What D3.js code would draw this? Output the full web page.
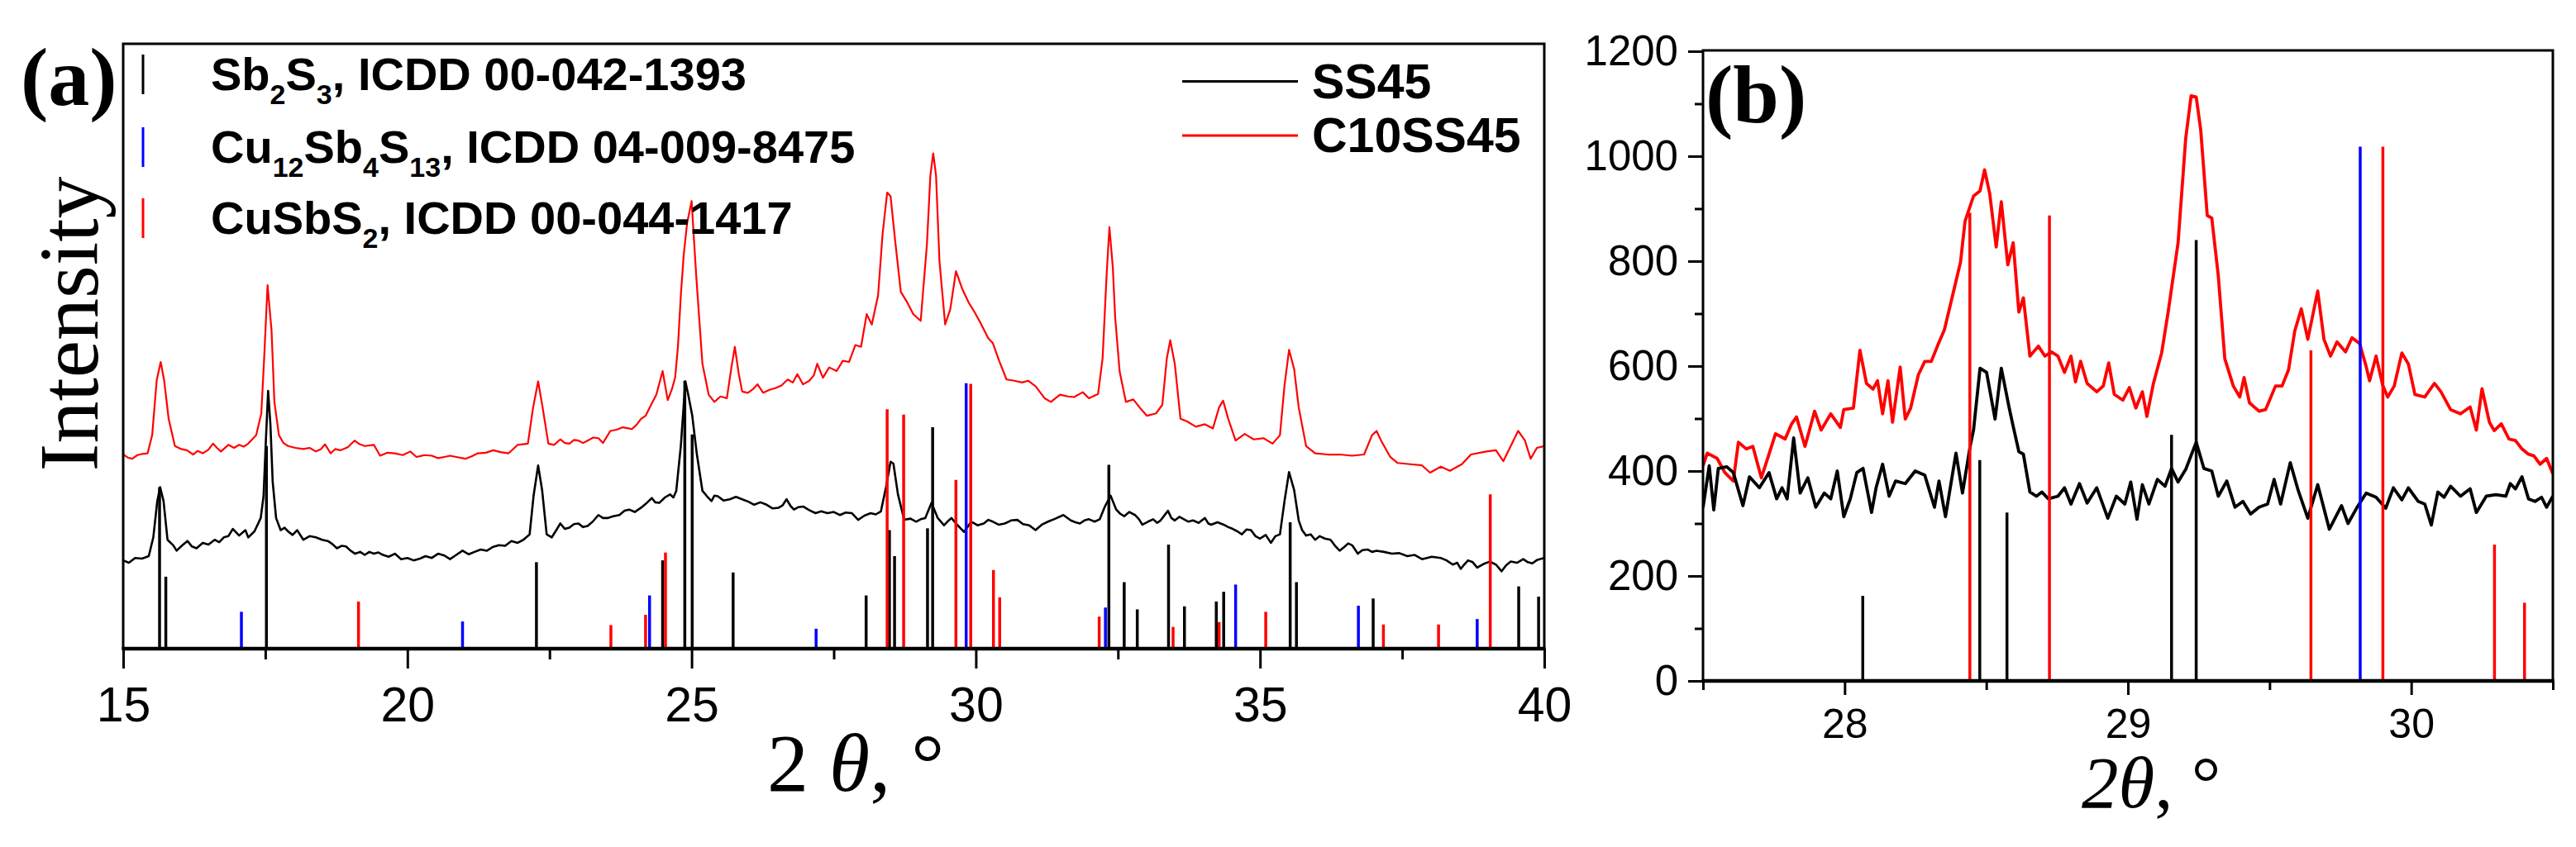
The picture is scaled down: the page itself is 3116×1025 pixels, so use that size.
<!DOCTYPE html>
<html lang="en">
<head>
  <meta charset="UTF-8">
  <title>XRD SS45 / C10SS45</title>
  <style>
    body { margin: 0; background: #fff; }
    svg { display: block; }
  </style>
</head>
<body>
  <div id="chart"></div>

<script src="https://d3js.org/d3.v7.min.js"></script>
<script>
  // Panel (a): measured patterns, [2theta, intensity in arbitrary units]
  var ss45A = [[15.00,14.6],[15.10,14.2],[15.21,15.0],[15.33,14.9],[15.45,15.3],[15.53,18.4],[15.60,24.4],[15.65,26.7],[15.71,24.4],[15.78,18.0],[15.88,17.1],[15.94,16.2],[16.03,17.0],[16.13,17.8],[16.21,16.9],[16.29,16.6],[16.40,17.5],[16.50,17.2],[16.61,18.0],[16.69,17.6],[16.77,18.4],[16.85,18.6],[16.93,19.8],[17.04,18.7],[17.15,19.6],[17.20,18.4],[17.31,19.4],[17.42,21.6],[17.47,25.3],[17.51,34.4],[17.55,42.6],[17.59,37.1],[17.63,27.6],[17.69,21.6],[17.77,19.6],[17.84,20.0],[17.90,19.4],[17.98,18.8],[18.06,19.6],[18.17,18.0],[18.28,18.6],[18.39,18.4],[18.50,18.0],[18.60,17.8],[18.68,17.3],[18.76,16.6],[18.84,17.0],[18.92,16.9],[19.00,16.2],[19.08,15.7],[19.17,16.0],[19.25,15.5],[19.33,16.0],[19.41,15.7],[19.49,15.9],[19.57,15.5],[19.67,15.2],[19.78,15.7],[19.89,14.8],[20.00,15.0],[20.11,14.6],[20.22,14.9],[20.32,15.3],[20.43,15.0],[20.54,15.7],[20.65,15.4],[20.75,14.8],[20.86,15.5],[20.97,16.2],[21.08,15.6],[21.18,16.0],[21.29,16.4],[21.40,16.2],[21.50,16.8],[21.61,17.1],[21.72,17.0],[21.83,17.8],[21.94,17.5],[22.04,18.0],[22.15,18.9],[22.22,25.3],[22.30,30.3],[22.37,26.2],[22.45,18.9],[22.54,18.4],[22.62,19.6],[22.69,20.7],[22.77,19.8],[22.85,20.0],[22.93,20.6],[23.01,20.7],[23.09,20.1],[23.17,20.3],[23.26,21.0],[23.36,22.1],[23.44,21.6],[23.52,21.6],[23.62,21.9],[23.73,22.1],[23.82,22.8],[23.90,23.0],[24.00,22.6],[24.11,23.3],[24.20,24.0],[24.30,24.9],[24.36,24.2],[24.43,24.1],[24.53,25.0],[24.62,25.5],[24.68,25.0],[24.73,26.1],[24.81,33.5],[24.89,44.2],[24.94,42.0],[25.01,38.6],[25.09,32.3],[25.19,26.1],[25.27,25.2],[25.35,24.4],[25.40,25.3],[25.46,25.2],[25.56,24.5],[25.67,24.7],[25.78,25.1],[25.89,24.7],[26.00,24.3],[26.10,23.8],[26.21,24.2],[26.32,23.8],[26.42,23.2],[26.53,23.3],[26.60,23.7],[26.67,24.7],[26.74,23.6],[26.80,23.0],[26.88,23.4],[26.96,23.5],[27.07,22.9],[27.18,22.4],[27.28,22.7],[27.39,22.4],[27.50,22.6],[27.61,22.1],[27.71,22.5],[27.82,22.4],[27.93,21.3],[28.04,22.0],[28.15,22.4],[28.24,22.2],[28.33,22.7],[28.42,26.7],[28.50,30.9],[28.55,30.6],[28.63,25.5],[28.74,21.3],[28.85,21.5],[28.95,21.0],[29.03,21.4],[29.11,21.6],[29.22,24.1],[29.33,21.6],[29.44,20.4],[29.50,21.0],[29.57,21.6],[29.68,20.4],[29.79,19.3],[29.86,20.2],[29.92,21.0],[30.03,20.4],[30.14,20.7],[30.22,21.3],[30.30,21.0],[30.40,20.5],[30.51,20.7],[30.62,21.2],[30.73,21.3],[30.83,20.6],[30.94,20.4],[31.05,19.6],[31.16,20.5],[31.27,21.0],[31.40,21.5],[31.54,22.1],[31.67,21.2],[31.75,20.9],[31.83,20.7],[31.91,21.2],[31.99,21.4],[32.09,21.0],[32.18,21.4],[32.27,23.5],[32.37,25.3],[32.47,23.0],[32.54,22.3],[32.61,21.9],[32.70,22.6],[32.80,22.1],[32.87,21.4],[32.93,20.5],[33.03,21.0],[33.12,21.4],[33.19,20.8],[33.25,21.2],[33.38,22.8],[33.44,21.6],[33.50,21.2],[33.58,21.8],[33.66,21.4],[33.74,21.0],[33.82,21.2],[33.92,20.8],[34.03,21.6],[34.09,20.7],[34.14,20.5],[34.25,20.9],[34.36,20.5],[34.44,20.1],[34.52,19.8],[34.60,19.4],[34.68,18.9],[34.76,19.7],[34.84,19.6],[34.92,18.6],[35.00,18.2],[35.10,18.8],[35.19,17.5],[35.27,18.6],[35.35,18.9],[35.43,24.4],[35.51,29.2],[35.60,26.2],[35.68,21.2],[35.74,19.6],[35.81,18.7],[35.89,18.9],[35.97,18.0],[36.05,18.6],[36.14,18.2],[36.24,18.0],[36.32,17.0],[36.40,16.2],[36.48,16.8],[36.55,17.4],[36.62,17.1],[36.72,15.7],[36.80,16.3],[36.89,16.4],[36.97,16.0],[37.05,16.2],[37.18,16.0],[37.32,15.7],[37.45,15.8],[37.59,15.3],[37.72,15.5],[37.85,14.8],[38.02,15.2],[38.18,15.0],[38.28,14.6],[38.39,13.9],[38.47,14.2],[38.53,13.2],[38.60,14.0],[38.66,14.6],[38.74,14.3],[38.82,13.4],[38.93,14.0],[39.04,14.4],[39.15,13.9],[39.25,12.8],[39.33,13.8],[39.41,14.4],[39.52,14.2],[39.63,14.8],[39.71,14.3],[39.79,14.1],[39.88,14.7],[40.00,15.0]];

  var c10ss45A = [[15.00,32.1],[15.08,31.6],[15.16,31.4],[15.25,32.0],[15.34,32.2],[15.43,32.3],[15.51,35.3],[15.59,44.4],[15.66,47.4],[15.72,44.4],[15.80,38.0],[15.91,33.5],[16.02,33.0],[16.12,32.8],[16.23,32.1],[16.31,32.7],[16.40,32.3],[16.50,32.9],[16.58,33.9],[16.65,33.2],[16.72,32.6],[16.85,33.7],[16.95,33.2],[17.04,33.7],[17.12,33.4],[17.20,33.9],[17.34,35.3],[17.43,38.9],[17.48,48.0],[17.54,60.1],[17.61,52.6],[17.66,40.8],[17.74,35.3],[17.82,34.0],[17.90,33.5],[18.03,33.2],[18.17,33.0],[18.28,33.2],[18.39,32.6],[18.48,33.0],[18.55,33.8],[18.65,32.3],[18.73,33.0],[18.82,32.8],[18.95,33.3],[19.07,34.4],[19.16,33.8],[19.25,33.5],[19.41,33.7],[19.52,31.9],[19.65,32.4],[19.78,32.3],[19.92,32.0],[20.05,32.6],[20.16,31.7],[20.30,32.0],[20.43,31.9],[20.54,31.5],[20.65,31.7],[20.75,31.9],[20.86,31.7],[21.02,31.4],[21.13,31.8],[21.24,32.3],[21.38,32.4],[21.51,32.8],[21.64,32.5],[21.78,32.3],[21.86,33.0],[21.94,33.7],[22.12,33.9],[22.21,39.8],[22.30,44.2],[22.38,39.8],[22.48,33.9],[22.58,33.7],[22.69,34.6],[22.77,34.0],[22.85,33.9],[22.93,34.5],[23.01,34.4],[23.09,34.0],[23.17,34.4],[23.27,34.9],[23.36,34.8],[23.44,34.0],[23.57,36.0],[23.68,36.2],[23.79,36.6],[23.95,36.3],[24.03,37.0],[24.11,38.0],[24.19,38.5],[24.27,40.0],[24.38,42.0],[24.49,45.9],[24.58,41.1],[24.65,42.8],[24.71,44.8],[24.76,50.0],[24.81,58.4],[24.86,65.0],[24.92,70.3],[25.00,74.0],[25.08,61.8],[25.19,47.1],[25.30,42.0],[25.40,40.8],[25.51,41.7],[25.62,41.4],[25.70,46.5],[25.76,49.9],[25.83,45.4],[25.89,42.5],[25.99,42.3],[26.08,42.9],[26.16,43.7],[26.26,42.3],[26.37,42.8],[26.48,43.1],[26.58,43.5],[26.69,44.5],[26.78,44.0],[26.86,45.4],[26.96,43.7],[27.07,44.3],[27.15,45.2],[27.21,47.1],[27.31,44.8],[27.42,46.5],[27.55,45.9],[27.66,47.6],[27.77,47.4],[27.88,50.2],[27.98,49.9],[28.08,55.3],[28.17,53.6],[28.28,58.4],[28.36,68.6],[28.44,75.4],[28.50,74.8],[28.58,67.5],[28.68,59.0],[28.79,57.3],[28.90,55.3],[29.03,54.2],[29.14,66.9],[29.20,78.2],[29.25,81.9],[29.30,78.2],[29.36,64.1],[29.46,53.6],[29.55,56.1],[29.65,62.4],[29.76,59.5],[29.87,57.3],[29.98,55.6],[30.08,53.9],[30.22,51.3],[30.30,50.5],[30.41,47.6],[30.54,44.5],[30.68,44.3],[30.81,44.0],[30.92,44.3],[31.05,43.4],[31.21,41.4],[31.32,40.8],[31.48,42.0],[31.62,41.7],[31.73,41.6],[31.88,42.4],[31.99,41.4],[32.15,42.1],[32.23,48.0],[32.30,61.7],[32.35,69.7],[32.41,63.0],[32.45,54.9],[32.53,45.8],[32.64,40.8],[32.77,41.2],[32.88,39.9],[33.01,38.5],[33.17,38.9],[33.28,40.3],[33.36,48.0],[33.42,51.0],[33.50,47.1],[33.60,38.0],[33.71,37.6],[33.87,36.7],[34.03,37.1],[34.17,36.4],[34.28,39.9],[34.35,41.0],[34.44,38.0],[34.57,34.4],[34.73,35.5],[34.89,34.6],[35.06,34.8],[35.22,33.9],[35.35,35.3],[35.43,43.5],[35.51,49.4],[35.60,46.2],[35.68,39.9],[35.81,33.5],[35.97,32.3],[36.19,32.1],[36.40,32.1],[36.62,31.9],[36.83,32.1],[36.97,35.3],[37.05,36.0],[37.13,34.4],[37.29,31.7],[37.42,30.7],[37.64,30.5],[37.85,30.3],[37.99,29.1],[38.18,30.1],[38.34,29.4],[38.55,30.5],[38.71,32.1],[38.98,32.6],[39.15,32.8],[39.28,31.0],[39.41,33.5],[39.54,36.0],[39.66,34.4],[39.76,31.4],[39.87,33.2],[40.00,33.5]];

  // Panel (a): reference cards, [2theta, stick height]
  var sb2s3A = [[15.64,26.7],[15.75,11.9],[17.52,33.5],[22.27,14.3],[24.49,14.6],[24.88,44.3],[25.01,35.4],[25.73,12.6],[28.07,8.8],[28.48,19.6],[28.57,15.3],[29.15,19.9],[29.24,36.6],[32.34,30.4],[32.61,11.0],[32.84,6.5],[33.39,17.2],[33.67,7.0],[34.23,7.8],[34.36,9.4],[35.53,20.9],[35.64,11.0],[36.99,8.3],[39.55,10.3],[39.90,8.6]];
  var cu12A = [[17.08,6.1],[20.97,4.5],[24.26,8.8],[27.19,3.3],[29.83,43.9],[32.28,6.8],[34.57,10.6],[36.73,7.1],[38.82,4.9]];
  var cusbs2A = [[19.14,7.8],[23.58,3.9],[24.19,5.6],[24.54,15.9],[28.44,39.6],[28.73,38.7],[29.65,27.9],[29.91,43.8],[30.31,13.0],[30.42,8.5],[32.17,5.3],[33.47,3.6],[34.28,4.4],[35.10,6.1],[37.17,4.0],[38.14,4.0],[39.05,25.5]];

  // Panel (b): zoom 27.5-30.5, counts
  var ss45B = [[27.50,330],[27.522,410],[27.538,326],[27.554,405],[27.584,408],[27.607,397],[27.641,334],[27.664,389],[27.699,368],[27.733,397],[27.76,347],[27.779,368],[27.797,347],[27.82,463],[27.843,358],[27.87,387],[27.898,331],[27.928,358],[27.951,347],[27.974,400],[27.997,313],[28.02,347],[28.043,397],[28.065,405],[28.095,321],[28.111,368],[28.134,413],[28.157,352],[28.18,381],[28.214,376],[28.249,400],[28.283,392],[28.317,331],[28.333,381],[28.356,313],[28.393,434],[28.416,358],[28.443,447],[28.455,478],[28.478,596],[28.501,588],[28.531,499],[28.553,596],[28.581,520],[28.593,490],[28.615,437],[28.631,432],[28.654,360],[28.677,352],[28.696,360],[28.719,347],[28.753,352],[28.776,368],[28.799,337],[28.829,376],[28.856,339],[28.89,368],[28.929,310],[28.959,352],[28.989,337],[29.01,379],[29.032,308],[29.051,374],[29.074,337],[29.104,384],[29.131,371],[29.154,405],[29.177,379],[29.204,403],[29.241,455],[29.268,405],[29.296,400],[29.319,352],[29.349,381],[29.378,331],[29.406,342],[29.433,318],[29.463,331],[29.493,337],[29.516,384],[29.539,337],[29.573,416],[29.601,363],[29.635,310],[29.67,374],[29.711,289],[29.754,334],[29.777,300],[29.807,329],[29.841,358],[29.876,350],[29.91,329],[29.937,368],[29.967,345],[29.99,368],[30.025,342],[30.048,337],[30.071,297],[30.094,360],[30.116,350],[30.139,371],[30.174,352],[30.208,366],[30.23,321],[30.265,352],[30.299,355],[30.334,352],[30.35,376],[30.368,366],[30.391,389],[30.414,347],[30.437,342],[30.46,350],[30.478,331],[30.50,352]];

  var c10ss45B = [[27.50,410],[27.515,434],[27.55,424],[27.577,397],[27.607,381],[27.625,455],[27.653,442],[27.676,447],[27.706,387],[27.733,432],[27.756,471],[27.79,461],[27.813,490],[27.83,503],[27.86,447],[27.894,514],[27.917,478],[27.951,509],[27.985,483],[27.997,517],[28.031,520],[28.054,630],[28.077,567],[28.10,556],[28.116,572],[28.134,509],[28.153,572],[28.169,493],[28.196,598],[28.214,499],[28.233,520],[28.26,583],[28.283,609],[28.306,609],[28.329,640],[28.352,669],[28.379,730],[28.409,798],[28.425,876],[28.455,924],[28.478,934],[28.494,974],[28.512,929],[28.535,827],[28.553,913],[28.576,793],[28.595,835],[28.615,703],[28.631,730],[28.654,619],[28.684,638],[28.707,619],[28.73,627],[28.753,619],[28.776,588],[28.799,619],[28.815,570],[28.833,609],[28.856,567],[28.89,551],[28.913,562],[28.932,606],[28.952,546],[28.982,535],[29.005,559],[29.028,520],[29.051,551],[29.067,504],[29.09,567],[29.119,625],[29.142,703],[29.177,835],[29.204,1034],[29.223,1115],[29.241,1113],[29.257,1050],[29.28,887],[29.296,882],[29.319,772],[29.342,614],[29.372,562],[29.395,541],[29.41,578],[29.429,530],[29.463,514],[29.486,517],[29.521,562],[29.544,562],[29.567,593],[29.589,667],[29.612,709],[29.635,651],[29.67,743],[29.692,651],[29.715,619],[29.738,646],[29.768,627],[29.791,654],[29.818,643],[29.841,599],[29.853,572],[29.876,619],[29.899,564],[29.917,541],[29.94,562],[29.967,625],[29.99,604],[30.013,546],[30.048,541],[30.082,567],[30.105,551],[30.139,517],[30.174,509],[30.208,522],[30.23,478],[30.25,557],[30.276,493],[30.293,477],[30.318,490],[30.345,461],[30.368,458],[30.391,442],[30.414,432],[30.433,429],[30.455,413],[30.478,424],[30.50,395]];

  var sb2s3B = [[28.064,162],[28.477,421],[28.573,321],[29.154,469],[29.241,840]];
  var cu12B = [[29.82,1018]];
  var cusbs2B = [[28.442,892],[28.723,887],[29.646,630],[29.90,1018],[30.294,260],[30.40,149]];

  // ticks
  var majorAx = [15, 20, 25, 30, 35, 40];
  var minorAx = [17.5, 22.5, 27.5, 32.5, 37.5];
  var majorBx = [28, 29, 30];
  var minorBx = [27.5, 28.5, 29.5, 30.5];
  var majorBy = [0, 200, 400, 600, 800, 1000, 1200];
  var minorBy = [100, 300, 500, 700, 900, 1100];

  var sans = "'Liberation Sans', Arial, sans-serif";
  var serif = "'Liberation Serif', 'Times New Roman', serif";
  var RED = '#ff0000', BLUE = '#0000ff', BLACK = '#000000';
  var plain = d3.format('d');

  var svg = d3.select('#chart')
    .append('svg')
    .attr('width', 3116)
    .attr('height', 1025)
    .style('background', '#fff');

  var boxA = { left: 149, right: 1868, top: 53, bottom: 785 };
  var boxB = { left: 2060, right: 3088, top: 61, bottom: 824 };

  var xA = d3.scaleLinear().domain([15, 40]).range([boxA.left, boxA.right]);
  var yA = d3.scaleLinear().domain([0, 100]).range([boxA.bottom, boxA.top]);
  var xB = d3.scaleLinear().domain([27.5, 30.5]).range([boxB.left, boxB.right]);
  var yB = d3.scaleLinear().domain([0, 1200]).range([boxB.bottom, 62]);

  var defs = svg.append('defs');
  [['clipA', boxA], ['clipB', boxB]].forEach(function(c) {
    defs.append('clipPath').attr('id', c[0])
      .append('rect')
      .attr('x', c[1].left).attr('y', c[1].top)
      .attr('width', c[1].right - c[1].left)
      .attr('height', c[1].bottom - c[1].top);
  });

  function drawCurve(g, data, x, y, color, width) {
    var line = d3.line()
      .x(function(d) { return x(d[0]); })
      .y(function(d) { return y(d[1]); });
    g.append('path')
      .datum(data)
      .attr('fill', 'none')
      .attr('stroke', color)
      .attr('stroke-width', width)
      .attr('stroke-linejoin', 'round')
      .attr('d', line);
  }

  function drawSticks(g, data, x, y, color, width) {
    g.selectAll(null)
      .data(data)
      .enter()
      .append('line')
      .attr('x1', function(d) { return x(d[0]); })
      .attr('x2', function(d) { return x(d[0]); })
      .attr('y1', y(0))
      .attr('y2', function(d) { return y(d[1]); })
      .attr('stroke', color)
      .attr('stroke-width', width);
  }

  function styleAxis(g, size) {
    g.attr('font-family', sans).attr('font-size', size);
    g.select('.domain').remove();
    g.selectAll('.tick line').attr('stroke', BLACK).attr('stroke-width', 3);
    g.selectAll('.tick text').attr('fill', BLACK);
  }

  function drawFrame(box) {
    svg.append('rect')
      .attr('x', box.left).attr('y', box.top)
      .attr('width', box.right - box.left)
      .attr('height', box.bottom - box.top)
      .attr('fill', 'none')
      .attr('stroke', BLACK)
      .attr('stroke-width', 3);
    svg.append('line')
      .attr('x1', box.left - 1.5).attr('x2', box.right + 1.5)
      .attr('y1', box.bottom).attr('y2', box.bottom)
      .attr('stroke', BLACK)
      .attr('stroke-width', 4.5);
  }

  // ---------- panel (a) ----------
  var gA = svg.append('g').attr('clip-path', 'url(#clipA)');
  drawCurve(gA, c10ss45A, xA, yA, RED, 2.2);
  drawCurve(gA, ss45A, xA, yA, BLACK, 2.6);
  drawSticks(gA, sb2s3A, xA, yA, BLACK, 3.5);
  drawSticks(gA, cu12A, xA, yA, BLUE, 3.5);
  drawSticks(gA, cusbs2A, xA, yA, RED, 3.5);
  drawFrame(boxA);

  svg.append('g')
    .attr('transform', 'translate(0,' + boxA.bottom + ')')
    .call(d3.axisBottom(xA).tickValues(majorAx).tickFormat(plain).tickSize(24).tickPadding(22).tickSizeOuter(0))
    .call(styleAxis, 59);
  svg.append('g')
    .attr('transform', 'translate(0,' + boxA.bottom + ')')
    .call(d3.axisBottom(xA).tickValues(minorAx).tickSize(13).tickFormat('').tickSizeOuter(0))
    .call(styleAxis, 59);

  // legend with reference card sticks
  var legendA = [
    { color: BLACK, y: 109, parts: [['Sb', 0], ['2', 1], ['S', 0], ['3', 1], [', ICDD 00-042-1393', 0]] },
    { color: BLUE, y: 197, parts: [['Cu', 0], ['12', 1], ['Sb', 0], ['4', 1], ['S', 0], ['13', 1], [', ICDD 04-009-8475', 0]] },
    { color: RED, y: 283, parts: [['CuSbS', 0], ['2', 1], [', ICDD 00-044-1417', 0]] }
  ];
  legendA.forEach(function(row) {
    svg.append('line')
      .attr('x1', 173).attr('x2', 173)
      .attr('y1', row.y - 43).attr('y2', row.y + 5)
      .attr('stroke', row.color)
      .attr('stroke-width', 3);
    var t = svg.append('text')
      .attr('x', 255).attr('y', row.y)
      .attr('font-family', sans)
      .attr('font-weight', 'bold')
      .attr('font-size', 56)
      .attr('fill', BLACK);
    var shifted = 0;
    row.parts.forEach(function(p) {
      var dy = p[1] ? 17 - shifted : -shifted;
      shifted = p[1] ? 17 : 0;
      t.append('tspan')
        .attr('dy', dy)
        .attr('font-size', p[1] ? 34 : 56)
        .text(p[0]);
    });
  });

  var legendSamples = [['SS45', BLACK, 98.5, 119], ['C10SS45', RED, 164, 184]];
  legendSamples.forEach(function(s) {
    svg.append('line')
      .attr('x1', 1430).attr('x2', 1570)
      .attr('y1', s[2]).attr('y2', s[2])
      .attr('stroke', s[1])
      .attr('stroke-width', 3);
    svg.append('text')
      .attr('x', 1587).attr('y', s[3])
      .attr('font-family', sans)
      .attr('font-weight', 'bold')
      .attr('font-size', 59)
      .attr('fill', BLACK)
      .text(s[0]);
  });

  svg.append('text')
    .attr('x', 25).attr('y', 127)
    .attr('font-family', serif)
    .attr('font-weight', 'bold')
    .attr('font-size', 100)
    .text('(a)');

  svg.append('text')
    .attr('transform', 'translate(118,392) rotate(-90)')
    .attr('text-anchor', 'middle')
    .attr('font-family', serif)
    .attr('font-size', 102)
    .text('Intensity');

  var titleA = svg.append('text')
    .attr('x', 928).attr('y', 957)
    .attr('font-family', serif)
    .attr('font-size', 100);
  titleA.append('tspan').text('2 ');
  titleA.append('tspan').attr('font-style', 'italic').text('θ');
  titleA.append('tspan').text(', °');

  // ---------- panel (b) ----------
  var gB = svg.append('g').attr('clip-path', 'url(#clipB)');
  drawCurve(gB, c10ss45B, xB, yB, RED, 3.8);
  drawCurve(gB, ss45B, xB, yB, BLACK, 3.8);
  drawSticks(gB, sb2s3B, xB, yB, BLACK, 3.5);
  drawSticks(gB, cu12B, xB, yB, BLUE, 3.5);
  drawSticks(gB, cusbs2B, xB, yB, RED, 3.5);
  drawFrame(boxB);

  svg.append('g')
    .attr('transform', 'translate(0,' + boxB.bottom + ')')
    .call(d3.axisBottom(xB).tickValues(majorBx).tickFormat(plain).tickSize(17).tickPadding(16).tickSizeOuter(0))
    .call(styleAxis, 50);
  svg.append('g')
    .attr('transform', 'translate(0,' + boxB.bottom + ')')
    .call(d3.axisBottom(xB).tickValues(minorBx).tickSize(11).tickFormat('').tickSizeOuter(0))
    .call(styleAxis, 50);
  svg.append('g')
    .attr('transform', 'translate(' + boxB.left + ',0)')
    .call(d3.axisLeft(yB).tickValues(majorBy).tickFormat(plain).tickSize(18).tickPadding(12).tickSizeOuter(0))
    .call(styleAxis, 51);
  svg.append('g')
    .attr('transform', 'translate(' + boxB.left + ',0)')
    .call(d3.axisLeft(yB).tickValues(minorBy).tickSize(10).tickFormat('').tickSizeOuter(0))
    .call(styleAxis, 51);

  svg.append('text')
    .attr('x', 2063).attr('y', 148)
    .attr('font-family', serif)
    .attr('font-weight', 'bold')
    .attr('font-size', 100)
    .text('(b)');

  var titleB = svg.append('text')
    .attr('x', 2518).attr('y', 977)
    .attr('font-family', serif)
    .attr('font-size', 89);
  titleB.append('tspan').attr('font-style', 'italic').text('2θ');
  titleB.append('tspan').text(', °');
</script>
</body>
</html>
